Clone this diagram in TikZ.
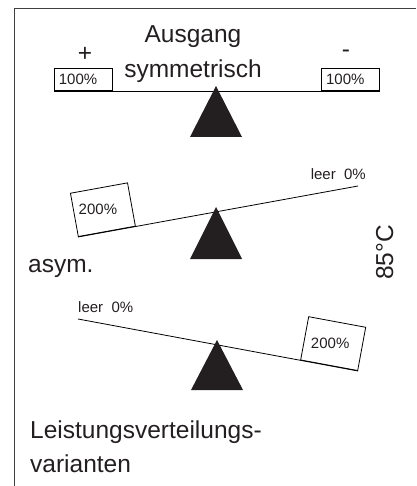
\documentclass[tikz,border=0pt]{standalone}
\usepackage{fontspec}
\setmainfont{Liberation Sans}
\usetikzlibrary{positioning}
\definecolor{ink}{RGB}{35,31,32}

\begin{document}
\begin{tikzpicture} [x=1pt, y=-1pt, every node/.style={inner sep=0pt, text=ink},
                big/.style={font=\fontsize{24.5}{29}\selectfont},
                small/.style={font=\fontsize{15}{18}\selectfont},
                cell/.style={draw=black, line width=0.8pt, small, minimum height=22pt, text width=49pt, inner xsep=4.5pt, align=left},
                beam/.style={draw=black, line width=0.8pt}]
                \tikzset{load/.style={draw=black, line width=0.8pt, minimum width=58pt, minimum height=44pt}}
                \useasboundingbox (0,0) rectangle (416,486);
                \draw [black!75, line width=1pt] (416,9) -- (14,9) -- (14,486);
                % symmetrisch
                \coordinate (b1w) at (54,91);
                \coordinate (b1e) at (380,91);
                \coordinate (p1) at (216,86);
                \draw [beam] (b1w) -- (b1e);
                \node [cell, anchor=south west] (plusbox) at (b1w) {100\%};
                \node [cell, anchor=south east] (minusbox) at (b1e) {100\%};
                \fill [ink] (p1) -- ++(-26,51) -- ++(52,0) -- cycle;
                \node [big, anchor=base] (plus) at (85,62) {+};
                \node [big, anchor=base] (minus) at (346,58) {-};
                \node [big, anchor=base] (ausg) at (193,43) {Ausgang};
                \node [big, anchor=base] (sym) at ([yshift=-35pt]ausg.base) {symmetrisch};
                % asym., links schwer
                \coordinate (b2w) at (78,237);
                \coordinate (b2e) at (358,186);
                \coordinate (p2) at (216,207);
                \draw [beam] (b2w) -- (b2e);
                \node [load, rotate=10.3, anchor=south west] (heavyl) at (b2w) {};
                \node [small] (heavyltxt) at ([xshift=-5pt]heavyl.center) {200\%};
                \node [small, anchor=base east] (emptyr) at (366,179) {leer\ \ 0\%};
                \fill [ink] (p2) -- ++(-26,52) -- ++(52,0) -- cycle;
                \node [big, anchor=base west] (asym) at (28,272) {asym.};
                \node [big, rotate=90, anchor=base west] (temp) at (393,280) {85°C};
                % asym., rechts schwer
                \coordinate (b3w) at (78,319);
                \coordinate (b3e) at (358,371);
                \coordinate (p3) at (217,340);
                \draw [beam] (b3w) -- (b3e);
                \node [load, rotate=-10.5, anchor=south east] (heavyr) at (b3e) {};
                \node [small] (heavyrtxt) at ([xshift=-3pt]heavyr.center) {200\%};
                \node [small, anchor=base west] (emptyl) at (78,312) {leer\ \ 0\%};
                \fill [ink] (p3) -- ++(-26,50) -- ++(52,0) -- cycle;
                \node [big, anchor=base west] (title) at (30,438) {Leistungsverteilungs-};
                \node [big, anchor=base west] (title2) at ([yshift=-34pt]title.base west) {varianten};
            \end{tikzpicture}
\end{document}
